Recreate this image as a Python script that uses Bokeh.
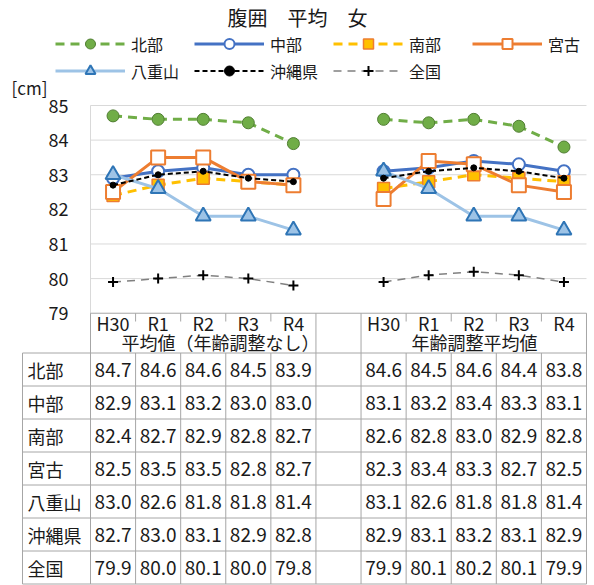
import math
from bokeh.plotting import figure
from bokeh.models import Range1d, Legend, LegendItem, ColumnDataSource
from bokeh.core.properties import value
from bokeh.embed import file_html
from bokeh.resources import INLINE

# ---------------- data ----------------
title_text = "腹囲　平均　女"
unit_label = "[cm]"
years = ["H30", "R1", "R2", "R3", "R4"]
groups = ["平均値（年齢調整なし）", "年齢調整平均値"]
regions = ["北部", "中部", "南部", "宮古", "八重山", "沖縄県", "全国"]
y_ticks = [79, 80, 81, 82, 83, 84, 85]

hokubu_raw = [84.7, 84.6, 84.6, 84.5, 83.9]
hokubu_adj = [84.6, 84.5, 84.6, 84.4, 83.8]
chubu_raw = [82.9, 83.1, 83.2, 83.0, 83.0]
chubu_adj = [83.1, 83.2, 83.4, 83.3, 83.1]
nanbu_raw = [82.4, 82.7, 82.9, 82.8, 82.7]
nanbu_adj = [82.6, 82.8, 83.0, 82.9, 82.8]
miyako_raw = [82.5, 83.5, 83.5, 82.8, 82.7]
miyako_adj = [82.3, 83.4, 83.3, 82.7, 82.5]
yaeyama_raw = [83.0, 82.6, 81.8, 81.8, 81.4]
yaeyama_adj = [83.1, 82.6, 81.8, 81.8, 81.4]
okinawa_raw = [82.7, 83.0, 83.1, 82.9, 82.8]
okinawa_adj = [82.9, 83.1, 83.2, 83.1, 82.9]
zenkoku_raw = [79.9, 80.0, 80.1, 80.0, 79.8]
zenkoku_adj = [79.9, 80.1, 80.2, 80.1, 79.9]

series_raw = [hokubu_raw, chubu_raw, nanbu_raw, miyako_raw, yaeyama_raw, okinawa_raw, zenkoku_raw]
series_adj = [hokubu_adj, chubu_adj, nanbu_adj, miyako_adj, yaeyama_adj, okinawa_adj, zenkoku_adj]

# ---------------- styles ----------------
FONT = value("Noto Sans CJK JP")
TXT = "#1a1a1a"
GRID = "#d9d9d9"
RULE = "#a6a6a6"

styles = [
    dict(color="#70AD47", width=3, dash="9 6", marker="circle", size=12, fill="#70AD47", mline="#507E32", mw=1),
    dict(color="#4472C4", width=3, dash="solid", marker="circle", size=12, fill="white", mline="#4472C4", mw=2),
    dict(color="#FFC000", width=3, dash="9 6", marker="square", size=12, fill="#FFC000", mline="#ED7D31", mw=1.5),
    dict(color="#ED7D31", width=3, dash="solid", marker="square", size=14, fill="white", mline="#ED7D31", mw=2),
    dict(color="#9DC3E6", width=3, dash="solid", marker="triangle", size=15, fill="#9DC3E6", mline="#2E75B6", mw=2),
    dict(color="#000000", width=2, dash="5 3", marker="circle", size=6, fill="#000000", mline="#000000", mw=1),
    dict(color="#808080", width=1.5, dash="8 6", marker="cross", size=10, fill="#000000", mline="#000000", mw=2),
]

# ---------------- geometry (px) ----------------
W = 594
H = 585
SLOT = 45.09          # px per category slot
X0 = 90.0             # px of slot boundary 0
PXCM = 34.62          # px per cm
Y85 = 105.0           # px from top for 85 cm
TBL_TOP = 352.5       # px of table top line
ROW = 33.0            # px per table row

n_years = len(years)
gap_slot = n_years    # blank slot between the two groups
n_slots = 2 * n_years + 1
x_g1 = [i + 0.5 for i in range(n_years)]
x_g2 = [gap_slot + 1 + i + 0.5 for i in range(n_years)]
all_x = x_g1 + x_g2


def px_x(px):
    return (px - X0) / SLOT


def px_cm(py):
    return 85 + (Y85 - py) / PXCM


p = figure(width=W, height=H, x_range=Range1d(px_x(0), px_x(W)),
           y_range=Range1d(px_cm(H), px_cm(0)),
           x_axis_type=None, y_axis_type=None, toolbar_location=None,
           output_backend="svg", min_border=0, outline_line_color=None)
p.extra_y_ranges = {"tbl": Range1d((H - TBL_TOP) / ROW, -TBL_TOP / ROW)}

# ---------------- chart grid & axes ----------------
grid_vals = [t for t in y_ticks if t != y_ticks[0]]
p.segment(x0=[0] * len(grid_vals), x1=[n_slots] * len(grid_vals), y0=grid_vals, y1=grid_vals,
          line_color=GRID, line_width=1)
p.segment(x0=[0], x1=[0], y0=[y_ticks[0]], y1=[y_ticks[-1]], line_color=GRID, line_width=1)
p.segment(x0=[0], x1=[n_slots], y0=[y_ticks[0]], y1=[y_ticks[0]], line_color=RULE, line_width=1)

# category separators
ytop_tbl = px_cm(TBL_TOP)
long_x = [0, gap_slot, gap_slot + 1, n_slots]
short_x = [i for i in range(1, n_slots) if i not in long_x]
p.segment(x0=long_x, x1=long_x, y0=[y_ticks[0]] * len(long_x), y1=[ytop_tbl] * len(long_x),
          line_color=RULE, line_width=1)
p.segment(x0=short_x, x1=short_x, y0=[y_ticks[0]] * len(short_x), y1=[px_cm(321)] * len(short_x),
          line_color=RULE, line_width=1)

# y tick labels
p.text(x=[px_x(68)] * len(y_ticks), y=y_ticks, text=[str(t) for t in y_ticks],
       text_font=FONT, text_font_size="18px", text_color=TXT,
       text_align="right", text_baseline="middle")
# unit label
p.text(x=[px_x(11)], y=[px_cm(87)], text=[unit_label],
       text_font=FONT, text_font_size="17px", text_color=TXT,
       text_align="left", text_baseline="middle")
# title
p.text(x=[px_x(297)], y=[px_cm(17)], text=[title_text],
       text_font=FONT, text_font_size="20px", text_color=TXT,
       text_align="center", text_baseline="middle")
# category tick labels
p.text(x=all_x, y=[px_cm(322)] * len(all_x), text=years + years,
       text_font=FONT, text_font_size="18px", text_color=TXT,
       text_align="center", text_baseline="middle")
# group labels
p.text(x=[px_x(220), px_x(474)], y=[px_cm(341)] * 2, text=groups,
       text_font=FONT, text_font_size="18px", text_color=TXT,
       text_align="center", text_baseline="middle")

# ---------------- series ----------------
items = []
for name, raw, adj, st in zip(regions, series_raw, series_adj, styles):
    xs = x_g1 + [math.nan] + x_g2
    ys = raw + [math.nan] + adj
    lr = p.line(xs, ys, line_color=st["color"], line_width=st["width"], line_dash=st["dash"])
    sr = p.scatter(x_g1 + x_g2, raw + adj, marker=st["marker"], size=st["size"],
                   fill_color=st["fill"], line_color=st["mline"], line_width=st["mw"])
    items.append(LegendItem(label=name, renderers=[lr, sr]))

legend = Legend(items=items, orientation="horizontal", ncols=4, location=(55, H - 83),
                glyph_width=70, glyph_height=25, label_standoff=6, label_width=61,
                spacing=2, padding=0, margin=0, border_line_color=None,
                background_fill_alpha=0, label_text_font="Noto Sans CJK JP",
                label_text_font_size="16px", label_text_color=TXT)
p.add_layout(legend)

# ---------------- data table ----------------
n_rows = len(regions)
left_edge = px_x(22)
col_x = [left_edge] + list(range(0, n_slots + 1))
p.segment(x0=col_x, x1=col_x, y0=[0] * len(col_x), y1=[n_rows] * len(col_x),
          line_color=RULE, line_width=1, y_range_name="tbl")
row_y = list(range(0, n_rows + 1))
p.segment(x0=[left_edge] * len(row_y), x1=[n_slots] * len(row_y), y0=row_y, y1=row_y,
          line_color=RULE, line_width=1, y_range_name="tbl")

# row labels
p.text(x=[px_x(27)] * n_rows, y=[i + 0.5 for i in range(n_rows)], text=regions,
       text_font=FONT, text_font_size="18px", text_color=TXT,
       text_align="left", text_baseline="middle", y_range_name="tbl")
# cell values
cx, cy, ct = [], [], []
for r, (raw, adj) in enumerate(zip(series_raw, series_adj)):
    for xv, v in zip(all_x, raw + adj):
        cx.append(xv)
        cy.append(r + 0.5)
        ct.append(f"{v:.1f}")
cells = ColumnDataSource(dict(x=cx, y=cy, t=ct))
p.text(x="x", y="y", text="t", source=cells,
       text_font=FONT, text_font_size="19px", text_color=TXT,
       text_align="center", text_baseline="middle", y_range_name="tbl")

open("out.html", "w").write(file_html(p, INLINE))
